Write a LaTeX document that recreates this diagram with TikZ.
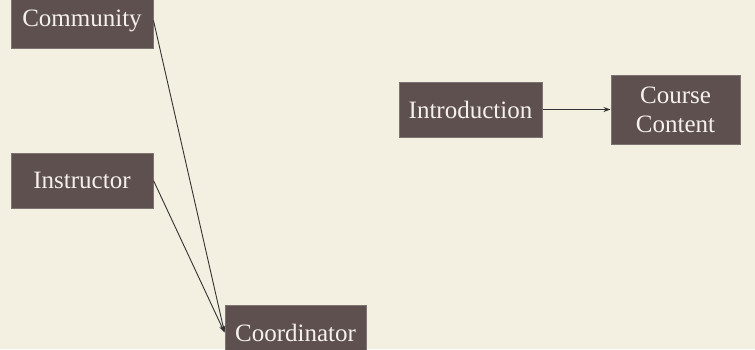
\documentclass[tikz,border=0pt]{standalone}
\usepackage{fontspec}
\setmainfont{Liberation Serif}
\usetikzlibrary{arrows.meta}
\definecolor{bgc}{HTML}{F3F0E1}
\definecolor{boxc}{HTML}{5F5050}
\definecolor{boxline}{HTML}{7D7370}
\definecolor{txtc}{HTML}{F4F1EC}
\definecolor{arrc}{HTML}{333333}
\tikzset{
  box/.style={draw=boxline, line width=1pt, fill=boxc, text=txtc, inner sep=0pt,
    font=\fontsize{25}{29}\selectfont, align=center, anchor=center},
  conn/.style={draw=arrc, line width=0.9pt, -{Stealth[length=7pt,width=5pt]}}
}
\begin{document}
\begin{tikzpicture}[x=1pt,y=-1pt]
\fill[bgc] (0,0) rectangle (755,349);
\useasboundingbox (0,0) rectangle (755,349);
\node[box, minimum width=142pt, minimum height=55pt] (com) at (82,20.5) {Community};
\node[box, minimum width=142pt, minimum height=55pt] (ins) at (82,180.5) {Instructor};
\node[box, minimum width=143pt, minimum height=55pt] (intro) at (470.5,109.5) {Introduction};
\node[box, minimum width=129pt, minimum height=69pt] (cc) at (675.5,109.5) {Course\\Content};
\node[box, minimum width=141pt, minimum height=55pt] (coo) at (295.5,332.5) {Coordinator};
\draw[conn] (com.east) -- (coo.west);
\draw[conn] (ins.east) -- (coo.west);
\draw[conn] (intro.east) -- (cc.west);
\end{tikzpicture}
\end{document}
